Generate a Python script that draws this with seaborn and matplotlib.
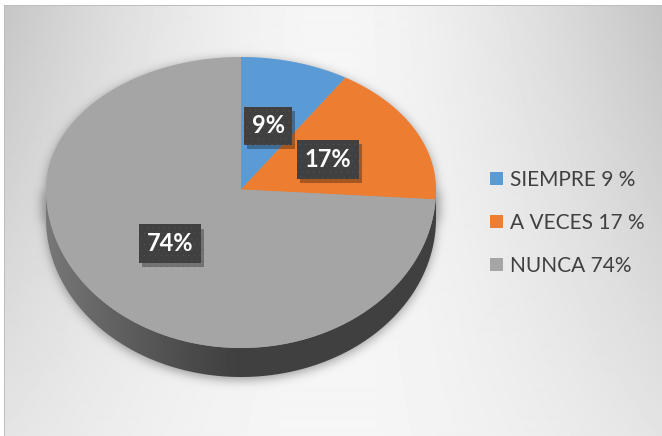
import matplotlib
matplotlib.use("Agg")
import matplotlib.pyplot as plt
import matplotlib.patheffects as pe
from matplotlib.patches import Patch, Polygon
import numpy as np
import seaborn as sns

# data
categories = ['SIEMPRE', 'A VECES', 'NUNCA']
values = [9, 17, 74]
legend_labels = ['SIEMPRE 9 %', 'A VECES 17 %', 'NUNCA 74%']
colors = ['#5b9bd5', '#ed7d31', '#a5a5a5']

sns.set_theme(style="white")
plt.rcParams['font.family'] = ['Lato', 'DejaVu Sans']
plt.rcParams['hatch.linewidth'] = 0.0

W, H = 662, 436
# pie geometry in pixels (3d tilt: far half looks shorter than near half)
cx, cy, rx, ry_top, ry_bot, depth = 241, 189.5, 195, 132.5, 158.5, 29
k = ry_top / ry_bot


def blur(a, s):
    ky = np.fft.fftfreq(a.shape[0])
    kx = np.fft.fftfreq(a.shape[1])
    g = np.exp(-2 * (np.pi * s) ** 2 * (ky[:, None] ** 2 + kx[None, :] ** 2))
    return np.real(np.fft.ifft2(np.fft.fft2(a) * g))


def tilt(xy):
    xy = np.array(xy, dtype=float)
    xy[..., 1] = np.where(xy[..., 1] > 0, xy[..., 1] * k, xy[..., 1])
    return xy


fig = plt.figure(figsize=(W / 100, H / 100), dpi=100)
ax = fig.add_axes([0, 0, 1, 1])
x0, x1 = (0 - cx) / rx, (W - cx) / rx
y0, y1 = (cy - H) / ry_bot, (cy - 0) / ry_bot

# background gradient + soft shadow of the pie
px, py = np.meshgrid(np.arange(W) + 0.5, np.arange(H) + 0.5)
dx = np.abs(px - 330) / 330
ty = py / H
bg = 246 - dx ** 1.6 * (50 - 32 * ty)

u = (px - cx) / rx
s = np.sqrt(np.clip(1 - u ** 2, 0, None))
sy = py - 3
mask = ((np.abs(u) <= 1.02) & (sy >= cy - ry_top * s) & (sy <= cy + depth + ry_bot * s)).astype(float)
shadow = np.clip(blur(mask, 5), 0, 1)
img = bg * (1 - 0.35 * shadow)
img[(px < 4) | (py < 6)] = 255
img[(px >= 4) & (px < 5) & (py >= 6)] = 190
img[(py >= 6) & (py < 7) & (px >= 4)] = 190
ax.imshow(img, cmap='gray', vmin=0, vmax=255, extent=(x0, x1, y0, y1),
          origin='upper', aspect='auto', interpolation='bilinear', zorder=0)

# side of the 3d pie
d = depth / ry_bot
theta = np.linspace(np.pi, 2 * np.pi, 300)
verts = np.vstack([np.column_stack([np.cos(theta), np.sin(theta)]),
                   np.column_stack([np.cos(theta[::-1]), np.sin(theta[::-1]) - d])])
side = Polygon(verts, closed=True, facecolor='none', edgecolor='none')
ax.add_patch(side)
gx = np.linspace(-1, 1, 400)
gv = 64 + 56 * np.clip(-gx, 0, 1) ** 1.2
sideimg = ax.imshow(np.tile(gv, (10, 1)), cmap='gray', vmin=0, vmax=255,
                    extent=(-1, 1, -1 - d, 0), aspect='auto', zorder=1.5)
sideimg.set_clip_path(side)

wedges, texts, autotexts = ax.pie(
    values, colors=colors, startangle=90, counterclock=False, radius=1,
    center=(0, 0), autopct=lambda p: f'{p:.0f}%', pctdistance=0.5,
    wedgeprops=dict(linewidth=0, zorder=2),
    textprops=dict(color='white', fontsize=17, fontweight='bold', zorder=5))

# squash the far half of every wedge for the tilted look
for w in wedges:
    a = np.radians(np.linspace(w.theta1, w.theta2, 200))
    pts = np.vstack([[0, 0], np.column_stack([np.cos(a), np.sin(a)])])
    ax.add_patch(Polygon(tilt(pts), closed=True, facecolor=w.get_facecolor(),
                         edgecolor='none', zorder=2))
    w.set_visible(False)

for t in autotexts:
    t.set_position(tilt(t.get_position()))
    t.set_bbox(dict(boxstyle='square,pad=0.33', facecolor='#404040',
                    edgecolor='#5a5a5a', linewidth=0, hatch='...'))
    t.get_bbox_patch().set_path_effects(
        [pe.SimplePatchShadow(offset=(2, -3), shadow_rgbFace='black', alpha=0.3), pe.Normal()])

ax.set_aspect('auto')
ax.set_xlim(x0, x1)
ax.set_ylim(y0, y1)
ax.axis('off')

handles = [Patch(facecolor=c, edgecolor='none') for c in colors]
fig.legend(handles, legend_labels, loc='center left',
           bbox_to_anchor=(490 / W, 1 - 223 / H), frameon=False, fontsize=15,
           handlelength=0.6, handleheight=0.6, handletextpad=0.35,
           labelspacing=1.1, borderpad=0, borderaxespad=0, labelcolor='#404040')

fig.savefig('out.png', dpi=100)
